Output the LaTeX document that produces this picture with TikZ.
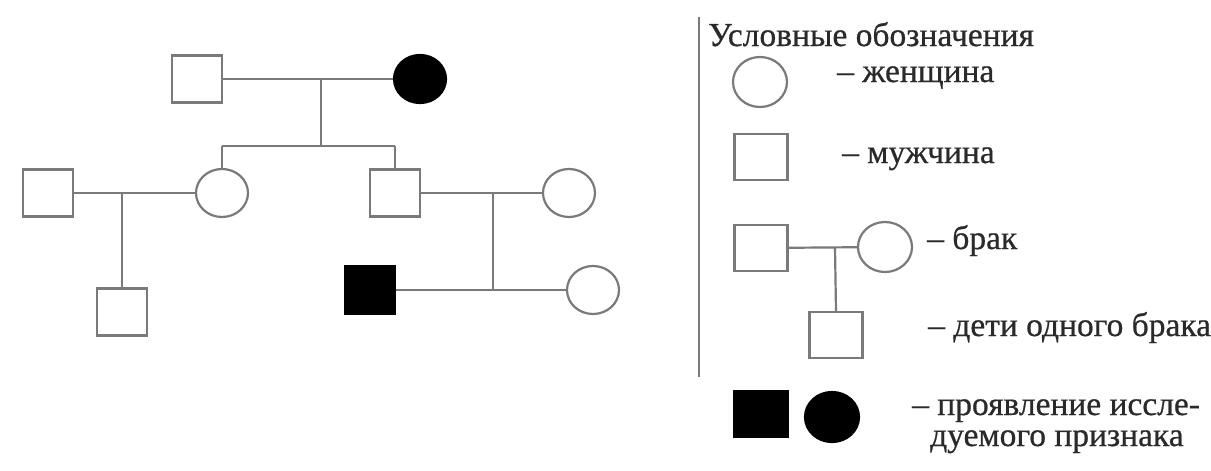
\documentclass[tikz,border=0pt]{standalone}
\usepackage{fontspec}
\setmainfont{Liberation Serif}
\newfontfamily\lblfont{Liberation Serif}[FakeBold=0.6]
\usetikzlibrary{shapes.geometric}
\definecolor{lc}{HTML}{7A7A7A}
\definecolor{tc}{HTML}{2A2A2A}
\tikzset{
  conn/.style={draw=lc, line width=2.2pt},
  male/.style={rectangle, draw=lc, line width=2.2pt, minimum width=50pt, minimum height=47pt, inner sep=0pt},
  female/.style={ellipse, draw=lc, line width=2.2pt, minimum width=52pt, minimum height=48pt, inner sep=0pt},
  lmale/.style={male, minimum width=53pt, minimum height=46pt},
  lfemale/.style={female, minimum width=54pt, minimum height=50pt},
  aff/.style={fill=black, draw=black},
  lbl/.style={anchor=base west, inner sep=0pt, text=tc, font=\lblfont\fontsize{33.5}{31}\selectfont},
}
\begin{document}
\begin{tikzpicture}[x=1pt,y=-1pt]
\useasboundingbox[fill=white] (0,0) rectangle (1211,471);
% ---- pedigree ----
\node[male] (gf) at (197,79) {};
\node[female, aff] (gm) at (420,79) {};
\coordinate (m1) at (321,79);
\coordinate (s1) at (321,146);
\coordinate (s1l) at (222,146);
\coordinate (s1r) at (395,146);

\node[male] (f1) at (48,193) {};
\node[female] (d1) at (222,193) {};
\node[male] (son) at (395,193) {};
\node[female] (w2) at (569,193) {};
\coordinate (m2) at (122,193);
\coordinate (m3) at (493,193);
\node[male] (c1) at (122,312) {};
\node[male, aff] (c2) at (370,290) {};
\node[female] (c3) at (593,290) {};
\coordinate (m3b) at (493,290);

\draw[conn] (gf) -- (gm);
\draw[conn] (m1) -- (s1);
\draw[conn] (s1l) -- (s1r);
\draw[conn] (s1l) -- (d1.north);
\draw[conn] (s1r) -- (son.north);
\draw[conn] (f1) -- (d1);
\draw[conn] (son) -- (w2);
\draw[conn] (m2) -- (c1.north);
\draw[conn] (m3) -- (m3b);
\draw[conn] (c2) -- (c3);

% ---- legend ----
\coordinate (vt) at (699,17);
\coordinate (vb) at (699,377);
\draw[conn] (vt) -- (vb);
\node[lbl] (title) at (708,46) {Условные обозначения};

\node[lfemale] (lw) at (760,82) {};
\node[lbl] (tw) at (837,82) {– женщина};

\node[lmale] (lm) at (761,157) {};
\node[lbl] (tm) at (842,163) {– мужчина};

\node[lmale] (bm) at (761,248) {};
\node[lfemale] (bw) at (885,247) {};
\coordinate (bk) at (835,247);
\node[lmale] (bc) at (836,335) {};
\draw[conn] (bm) -- (bw);
\draw[conn] (bk) -- (bc.north);
\node[lbl] (tb) at (927,249) {– брак};
\node[lbl] (tc1) at (928,336) {– дети одного брака};

\node[lmale, aff] (am) at (761,414) {};
\node[lfemale, aff] (af) at (832,417) {};
\node[lbl] (ta1) at (912,415) {– проявление иссле-};
\node[lbl] (ta2) at (930,446) {дуемого признака};
\end{tikzpicture}
\end{document}
